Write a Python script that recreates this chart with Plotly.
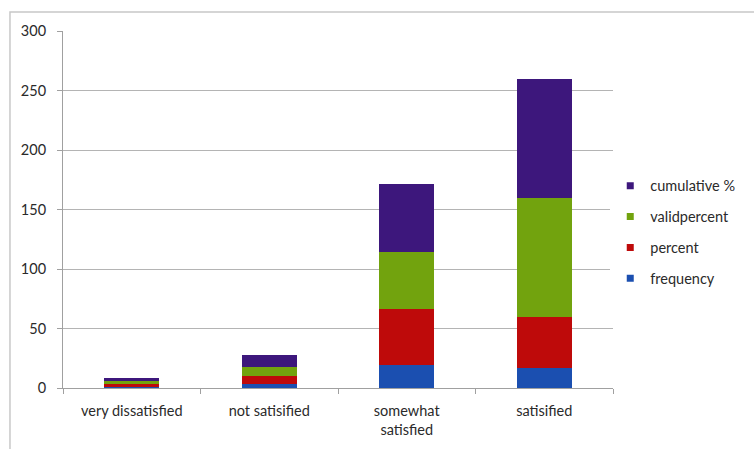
import plotly.graph_objects as go

categories = ["very dissatisfied", "not satisified", "somewhat<br>satisfied", "satisified"]
frequency = [1, 3, 19, 17]
percent = [2.5, 7.5, 47.5, 42.5]
validpercent = [2.5, 7.5, 47.5, 100]
cumulative = [2.5, 10, 57.5, 100]
y_ticks = [0, 50, 100, 150, 200, 250, 300]

series = [
    ("frequency", frequency, "#1b4fb0"),
    ("percent", percent, "#be0a0a"),
    ("validpercent", validpercent, "#72a30e"),
    ("cumulative %", cumulative, "#3d177c"),
]

fig = go.Figure()
for name, vals, col in series:
    fig.add_trace(go.Bar(x=categories, y=vals, name=name, marker_color=col,
                         marker_line_width=0, showlegend=False))
# legend entries with small square swatches (top entry = last series)
for i, (name, vals, col) in enumerate(reversed(series)):
    fig.add_trace(go.Scatter(x=[None], y=[None], mode="markers", name=name,
                             marker=dict(symbol="square", size=7, color=col),
                             legendgroup=f"g{i}", showlegend=True))

fig.update_layout(
    barmode="stack",
    bargap=0.6,
    width=754, height=449,
    margin=dict(l=63, r=141, t=31, b=61),
    plot_bgcolor="white", paper_bgcolor="white",
    font=dict(family="Lato, Open Sans, sans-serif", size=14.5, color="#2a2a2a"),
    legend=dict(x=0.995, y=0.436, xanchor="left", yanchor="middle",
                traceorder="grouped", tracegroupgap=9,
                itemwidth=30,
                font=dict(size=14.5, color="#2a2a2a")),
    showlegend=True,
    shapes=[dict(type="rect", xref="paper", yref="paper",
                 x0=-0.0964, x1=1.5, y0=-0.3, y1=1.053,
                 line=dict(color="#c8c8c8", width=1.5), layer="below")],
)
fig.update_yaxes(range=[0, 300], tickvals=y_ticks, showgrid=True, gridcolor="#b4b4b4",
                 gridwidth=1, showline=True, linecolor="#a0a0a0", ticks="outside",
                 ticklen=5, tickcolor="#a0a0a0", zeroline=False, ticklabelstandoff=8)
fig.update_xaxes(showline=True, linecolor="#a0a0a0", ticks="outside", tickson="boundaries",
                 ticklen=5, tickcolor="#a0a0a0", ticklabelstandoff=10)

fig.write_html("out.html")
